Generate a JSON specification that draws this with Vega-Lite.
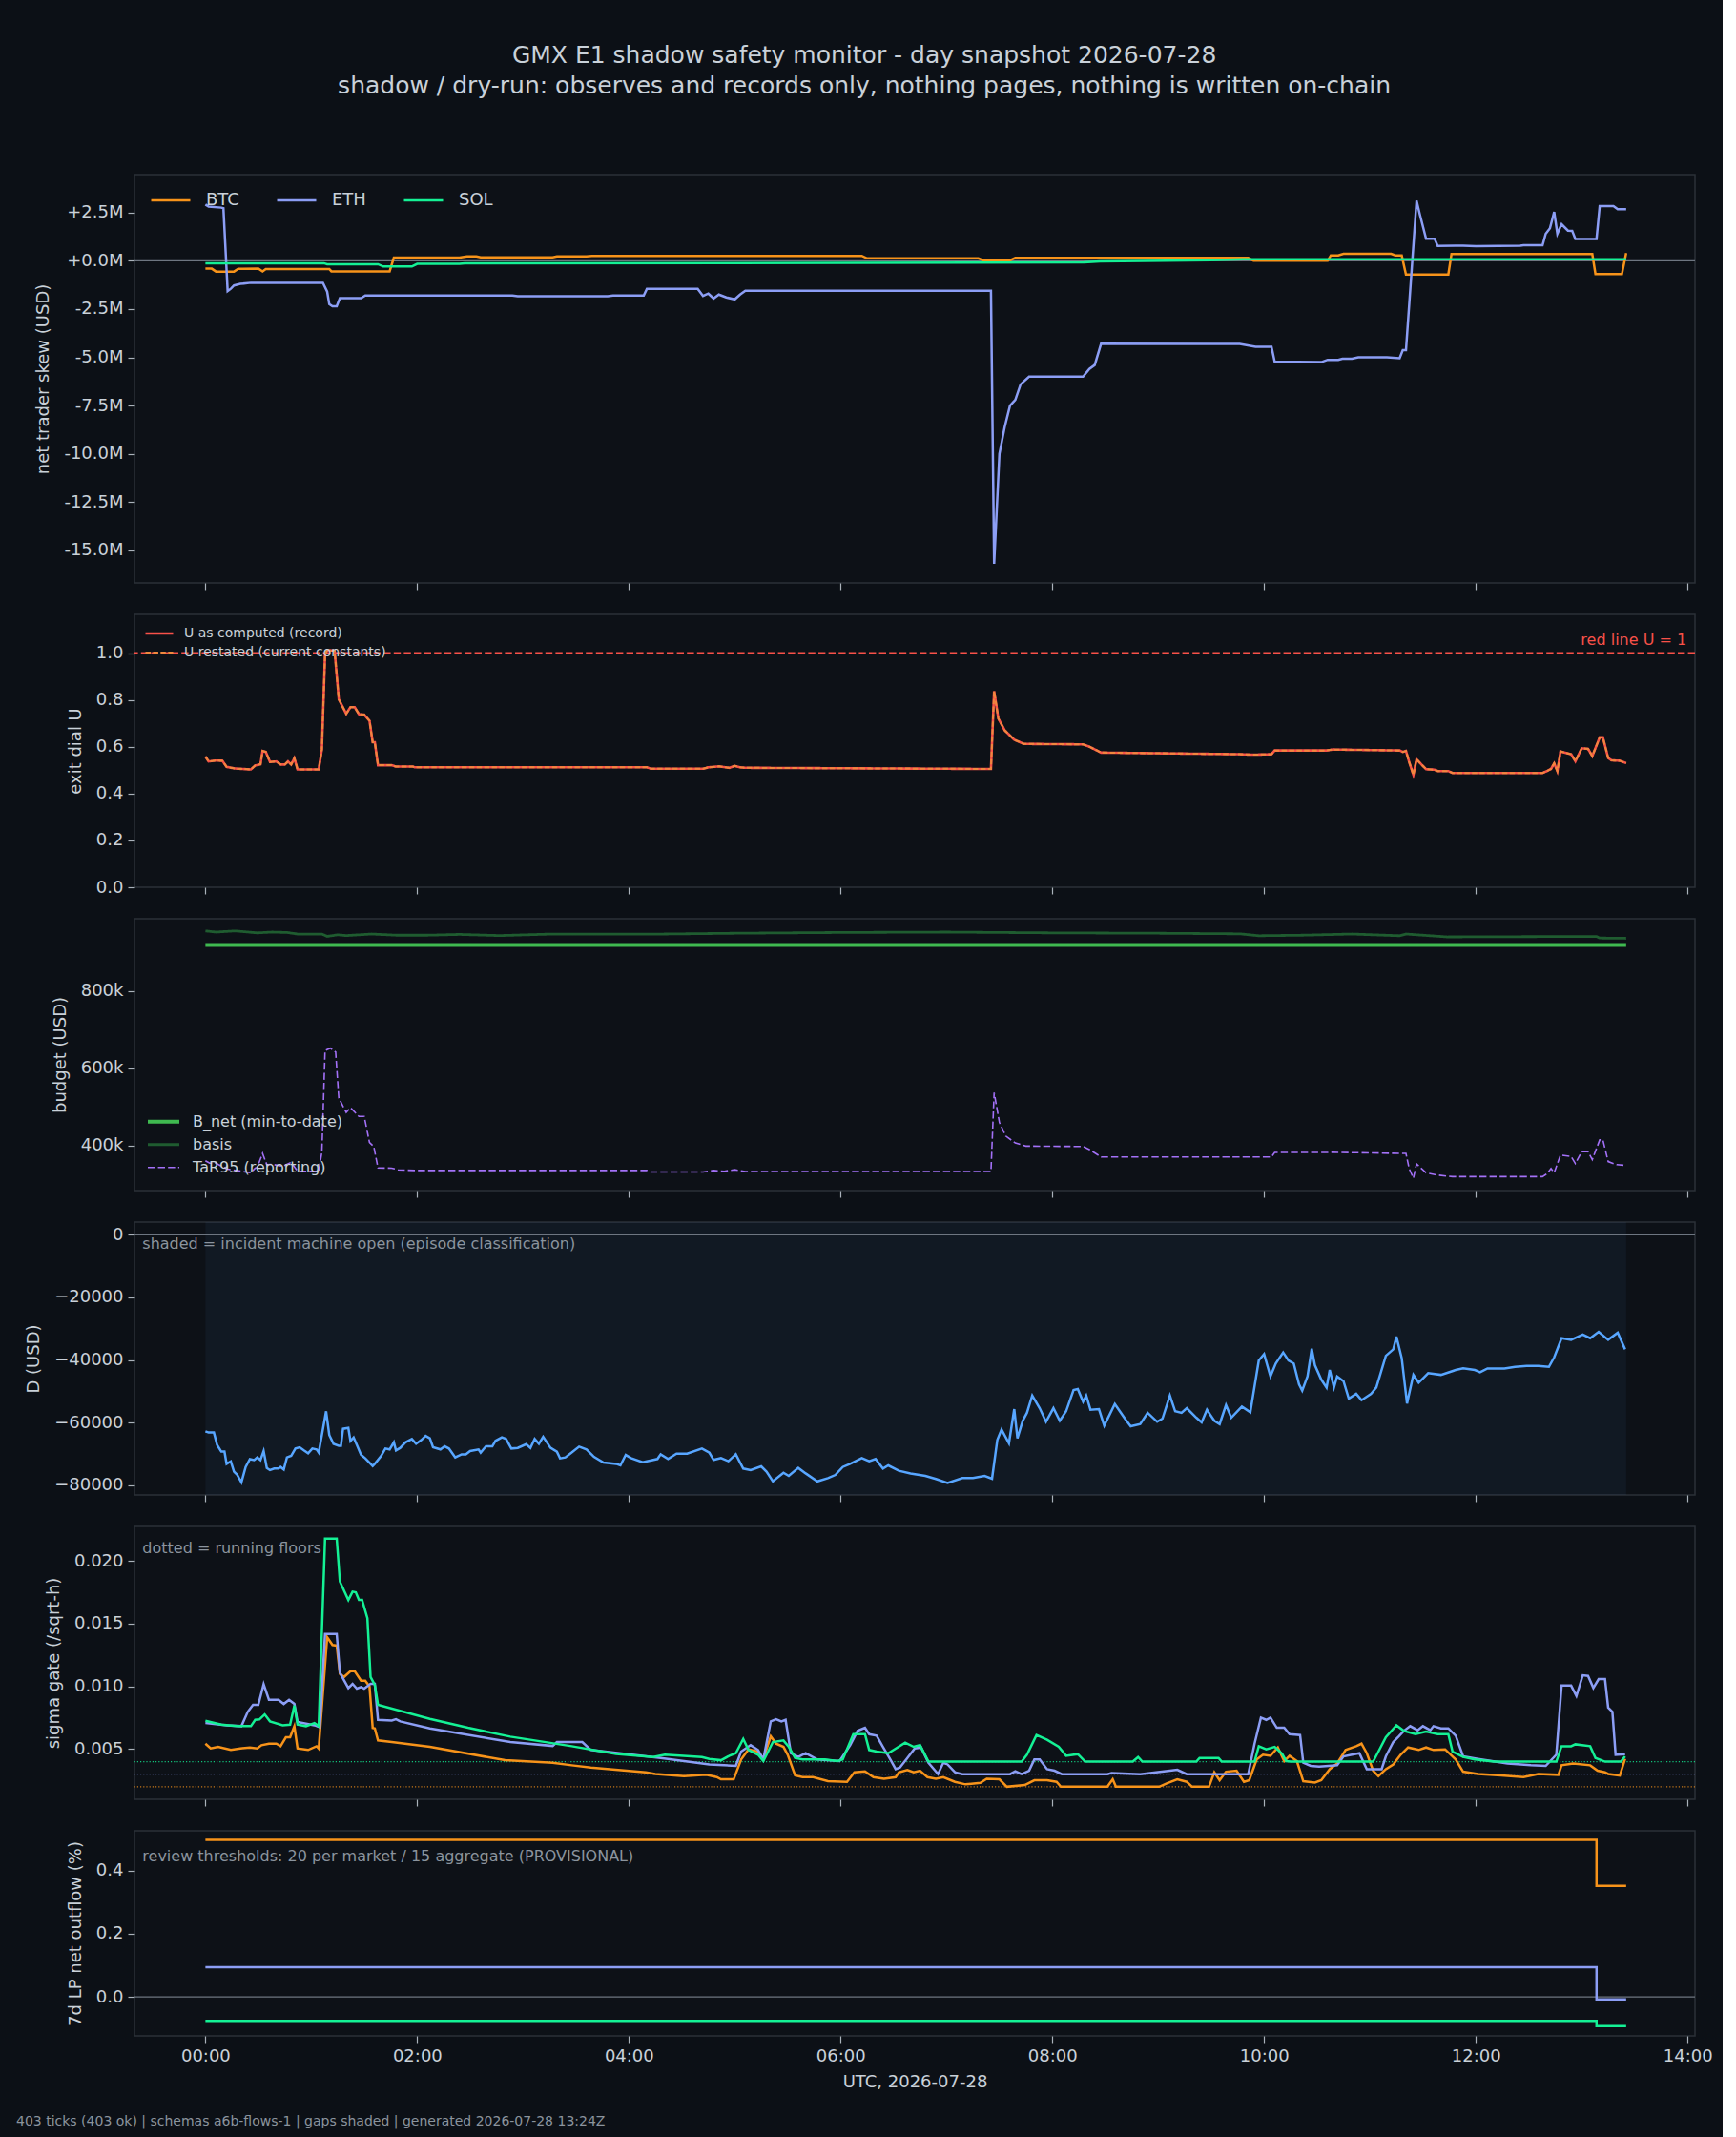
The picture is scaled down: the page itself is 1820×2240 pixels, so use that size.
{
"$schema": "https://vega.github.io/schema/vega-lite/v6.json",
"background": "#0c1016",
"padding": {"left": 16, "top": 46, "right": 10, "bottom": 8},
"title": {"text": ["GMX E1 shadow safety monitor - day snapshot 2026-07-28", "shadow / dry-run: observes and records only, nothing pages, nothing is written on-chain"], "fontSize": 25, "fontWeight": "normal", "color": "#c9d1d9", "lineHeight": 32, "anchor": "middle", "offset": 79},
"spacing": 33,
"bounds": "flush",
"datasets": {
"skew": [
{"h":0,"market":"BTC","skew":-410000},{"h":0.06,"market":"BTC","skew":-410000},{"h":0.1,"market":"BTC","skew":-560000},{"h":0.27,"market":"BTC","skew":-560000},{"h":0.31,"market":"BTC","skew":-420000},{"h":0.5,"market":"BTC","skew":-400000},{"h":0.54,"market":"BTC","skew":-550000},{"h":0.57,"market":"BTC","skew":-430000},{"h":1.17,"market":"BTC","skew":-430000},{"h":1.19,"market":"BTC","skew":-550000},{"h":1.74,"market":"BTC","skew":-550000},{"h":1.78,"market":"BTC","skew":160000},{"h":2.4,"market":"BTC","skew":160000},{"h":2.47,"market":"BTC","skew":220000},{"h":2.56,"market":"BTC","skew":220000},{"h":2.6,"market":"BTC","skew":180000},{"h":3.28,"market":"BTC","skew":180000},{"h":3.32,"market":"BTC","skew":220000},{"h":3.6,"market":"BTC","skew":220000},{"h":3.65,"market":"BTC","skew":250000},{"h":6.2,"market":"BTC","skew":250000},{"h":6.25,"market":"BTC","skew":120000},{"h":7.3,"market":"BTC","skew":120000},{"h":7.35,"market":"BTC","skew":20000},{"h":7.6,"market":"BTC","skew":20000},{"h":7.65,"market":"BTC","skew":150000},{"h":9.85,"market":"BTC","skew":150000},{"h":9.9,"market":"BTC","skew":0},{"h":10.6,"market":"BTC","skew":0},{"h":10.63,"market":"BTC","skew":280000},{"h":10.7,"market":"BTC","skew":280000},{"h":10.75,"market":"BTC","skew":360000},{"h":11.2,"market":"BTC","skew":360000},{"h":11.24,"market":"BTC","skew":280000},{"h":11.3,"market":"BTC","skew":280000},{"h":11.34,"market":"BTC","skew":-710000},{"h":11.74,"market":"BTC","skew":-710000},{"h":11.77,"market":"BTC","skew":350000},{"h":13.1,"market":"BTC","skew":350000},{"h":13.13,"market":"BTC","skew":-690000},{"h":13.38,"market":"BTC","skew":-690000},{"h":13.42,"market":"BTC","skew":400000},
{"h":0,"market":"ETH","skew":2910000},{"h":0.03,"market":"ETH","skew":2800000},{"h":0.15,"market":"ETH","skew":2750000},{"h":0.17,"market":"ETH","skew":2720000},{"h":0.21,"market":"ETH","skew":-1570000},{"h":0.24,"market":"ETH","skew":-1450000},{"h":0.27,"market":"ETH","skew":-1280000},{"h":0.33,"market":"ETH","skew":-1200000},{"h":0.43,"market":"ETH","skew":-1140000},{"h":1.11,"market":"ETH","skew":-1140000},{"h":1.15,"market":"ETH","skew":-1600000},{"h":1.17,"market":"ETH","skew":-2250000},{"h":1.2,"market":"ETH","skew":-2360000},{"h":1.24,"market":"ETH","skew":-2360000},{"h":1.27,"market":"ETH","skew":-1940000},{"h":1.47,"market":"ETH","skew":-1940000},{"h":1.51,"market":"ETH","skew":-1800000},{"h":2.9,"market":"ETH","skew":-1800000},{"h":2.95,"market":"ETH","skew":-1840000},{"h":3.8,"market":"ETH","skew":-1840000},{"h":3.85,"market":"ETH","skew":-1800000},{"h":4.14,"market":"ETH","skew":-1800000},{"h":4.17,"market":"ETH","skew":-1450000},{"h":4.65,"market":"ETH","skew":-1450000},{"h":4.7,"market":"ETH","skew":-1820000},{"h":4.75,"market":"ETH","skew":-1700000},{"h":4.8,"market":"ETH","skew":-1950000},{"h":4.85,"market":"ETH","skew":-1750000},{"h":4.92,"market":"ETH","skew":-1900000},{"h":5.0,"market":"ETH","skew":-2000000},{"h":5.05,"market":"ETH","skew":-1750000},{"h":5.1,"market":"ETH","skew":-1550000},{"h":7.42,"market":"ETH","skew":-1550000},{"h":7.45,"market":"ETH","skew":-15690000},{"h":7.5,"market":"ETH","skew":-10000000},{"h":7.55,"market":"ETH","skew":-8600000},{"h":7.6,"market":"ETH","skew":-7500000},{"h":7.65,"market":"ETH","skew":-7200000},{"h":7.7,"market":"ETH","skew":-6400000},{"h":7.78,"market":"ETH","skew":-6000000},{"h":8.29,"market":"ETH","skew":-6000000},{"h":8.35,"market":"ETH","skew":-5600000},{"h":8.4,"market":"ETH","skew":-5400000},{"h":8.46,"market":"ETH","skew":-4300000},{"h":9.77,"market":"ETH","skew":-4310000},{"h":9.92,"market":"ETH","skew":-4460000},{"h":10.07,"market":"ETH","skew":-4460000},{"h":10.1,"market":"ETH","skew":-5220000},{"h":10.54,"market":"ETH","skew":-5250000},{"h":10.6,"market":"ETH","skew":-5130000},{"h":10.7,"market":"ETH","skew":-5130000},{"h":10.74,"market":"ETH","skew":-5070000},{"h":10.83,"market":"ETH","skew":-5070000},{"h":10.89,"market":"ETH","skew":-5000000},{"h":11.16,"market":"ETH","skew":-5000000},{"h":11.28,"market":"ETH","skew":-5050000},{"h":11.31,"market":"ETH","skew":-4630000},{"h":11.34,"market":"ETH","skew":-4630000},{"h":11.44,"market":"ETH","skew":3110000},{"h":11.47,"market":"ETH","skew":2420000},{"h":11.53,"market":"ETH","skew":1140000},{"h":11.61,"market":"ETH","skew":1140000},{"h":11.64,"market":"ETH","skew":770000},{"h":11.88,"market":"ETH","skew":780000},{"h":12.0,"market":"ETH","skew":760000},{"h":12.42,"market":"ETH","skew":780000},{"h":12.45,"market":"ETH","skew":800000},{"h":12.63,"market":"ETH","skew":800000},{"h":12.66,"market":"ETH","skew":1400000},{"h":12.7,"market":"ETH","skew":1680000},{"h":12.74,"market":"ETH","skew":2530000},{"h":12.77,"market":"ETH","skew":1400000},{"h":12.81,"market":"ETH","skew":1890000},{"h":12.87,"market":"ETH","skew":1560000},{"h":12.91,"market":"ETH","skew":1550000},{"h":12.94,"market":"ETH","skew":1130000},{"h":13.14,"market":"ETH","skew":1130000},{"h":13.17,"market":"ETH","skew":2830000},{"h":13.3,"market":"ETH","skew":2830000},{"h":13.34,"market":"ETH","skew":2670000},{"h":13.42,"market":"ETH","skew":2670000},
{"h":0,"market":"SOL","skew":-130000},{"h":1.12,"market":"SOL","skew":-130000},{"h":1.15,"market":"SOL","skew":-180000},{"h":1.63,"market":"SOL","skew":-180000},{"h":1.68,"market":"SOL","skew":-300000},{"h":1.95,"market":"SOL","skew":-300000},{"h":2.0,"market":"SOL","skew":-160000},{"h":2.4,"market":"SOL","skew":-160000},{"h":2.45,"market":"SOL","skew":-130000},{"h":5.0,"market":"SOL","skew":-120000},{"h":8.3,"market":"SOL","skew":-80000},{"h":8.45,"market":"SOL","skew":-30000},{"h":9.5,"market":"SOL","skew":30000},{"h":9.8,"market":"SOL","skew":80000},{"h":13.42,"market":"SOL","skew":80000}
],
"udial": [
{"h":0,"computed":0.558,"restated":0.558},{"h":0.03,"computed":0.537,"restated":0.537},{"h":0.1,"computed":0.541,"restated":0.541},{"h":0.16,"computed":0.54,"restated":0.54},{"h":0.2,"computed":0.514,"restated":0.514},{"h":0.28,"computed":0.507,"restated":0.507},{"h":0.43,"computed":0.503,"restated":0.503},{"h":0.47,"computed":0.52,"restated":0.52},{"h":0.52,"computed":0.525,"restated":0.525},{"h":0.54,"computed":0.582,"restated":0.582},{"h":0.57,"computed":0.578,"restated":0.578},{"h":0.61,"computed":0.535,"restated":0.535},{"h":0.67,"computed":0.537,"restated":0.537},{"h":0.71,"computed":0.524,"restated":0.524},{"h":0.75,"computed":0.524,"restated":0.524},{"h":0.78,"computed":0.537,"restated":0.537},{"h":0.81,"computed":0.524,"restated":0.524},{"h":0.84,"computed":0.551,"restated":0.551},{"h":0.87,"computed":0.503,"restated":0.503},{"h":1.07,"computed":0.503,"restated":0.503},{"h":1.1,"computed":0.589,"restated":0.589},{"h":1.13,"computed":0.993,"restated":0.993},{"h":1.15,"computed":1.013,"restated":1.013},{"h":1.22,"computed":1.01,"restated":1.01},{"h":1.26,"computed":0.802,"restated":0.802},{"h":1.33,"computed":0.741,"restated":0.741},{"h":1.37,"computed":0.769,"restated":0.769},{"h":1.41,"computed":0.769,"restated":0.769},{"h":1.45,"computed":0.739,"restated":0.739},{"h":1.5,"computed":0.737,"restated":0.737},{"h":1.55,"computed":0.711,"restated":0.711},{"h":1.58,"computed":0.619,"restated":0.619},{"h":1.6,"computed":0.619,"restated":0.619},{"h":1.63,"computed":0.521,"restated":0.521},{"h":1.76,"computed":0.521,"restated":0.521},{"h":1.8,"computed":0.515,"restated":0.515},{"h":1.96,"computed":0.515,"restated":0.515},{"h":1.98,"computed":0.512,"restated":0.512},{"h":4.17,"computed":0.512,"restated":0.512},{"h":4.21,"computed":0.506,"restated":0.506},{"h":4.7,"computed":0.506,"restated":0.506},{"h":4.75,"computed":0.512,"restated":0.512},{"h":4.85,"computed":0.516,"restated":0.516},{"h":4.95,"computed":0.51,"restated":0.51},{"h":5.0,"computed":0.518,"restated":0.518},{"h":5.05,"computed":0.512,"restated":0.512},{"h":5.1,"computed":0.51,"restated":0.51},{"h":7.42,"computed":0.505,"restated":0.505},{"h":7.45,"computed":0.837,"restated":0.837},{"h":7.49,"computed":0.72,"restated":0.72},{"h":7.55,"computed":0.67,"restated":0.67},{"h":7.64,"computed":0.63,"restated":0.63},{"h":7.73,"computed":0.612,"restated":0.612},{"h":8.29,"computed":0.61,"restated":0.61},{"h":8.35,"computed":0.6,"restated":0.6},{"h":8.46,"computed":0.575,"restated":0.575},{"h":9.77,"computed":0.568,"restated":0.568},{"h":9.9,"computed":0.566,"restated":0.566},{"h":10.07,"computed":0.568,"restated":0.568},{"h":10.1,"computed":0.584,"restated":0.584},{"h":10.59,"computed":0.584,"restated":0.584},{"h":10.65,"computed":0.588,"restated":0.588},{"h":11.28,"computed":0.584,"restated":0.584},{"h":11.31,"computed":0.578,"restated":0.578},{"h":11.34,"computed":0.582,"restated":0.582},{"h":11.37,"computed":0.535,"restated":0.535},{"h":11.41,"computed":0.48,"restated":0.48},{"h":11.44,"computed":0.546,"restated":0.546},{"h":11.53,"computed":0.504,"restated":0.504},{"h":11.61,"computed":0.502,"restated":0.502},{"h":11.64,"computed":0.496,"restated":0.496},{"h":11.74,"computed":0.496,"restated":0.496},{"h":11.78,"computed":0.488,"restated":0.488},{"h":12.63,"computed":0.488,"restated":0.488},{"h":12.67,"computed":0.496,"restated":0.496},{"h":12.71,"computed":0.505,"restated":0.505},{"h":12.74,"computed":0.529,"restated":0.529},{"h":12.77,"computed":0.496,"restated":0.496},{"h":12.8,"computed":0.58,"restated":0.58},{"h":12.9,"computed":0.568,"restated":0.568},{"h":12.94,"computed":0.538,"restated":0.538},{"h":13.0,"computed":0.593,"restated":0.593},{"h":13.06,"computed":0.591,"restated":0.591},{"h":13.1,"computed":0.56,"restated":0.56},{"h":13.17,"computed":0.64,"restated":0.64},{"h":13.2,"computed":0.64,"restated":0.64},{"h":13.25,"computed":0.552,"restated":0.552},{"h":13.28,"computed":0.542,"restated":0.542},{"h":13.36,"computed":0.54,"restated":0.54},{"h":13.42,"computed":0.53,"restated":0.53}
],
"budget": [
{"h":0,"series":"B_net","usd":919000},{"h":13.42,"series":"B_net","usd":919000},
{"h":0,"series":"basis","usd":955000},{"h":0.1,"series":"basis","usd":952000},{"h":0.28,"series":"basis","usd":955000},{"h":0.49,"series":"basis","usd":950000},{"h":0.63,"series":"basis","usd":952000},{"h":0.77,"series":"basis","usd":951000},{"h":0.87,"series":"basis","usd":947000},{"h":1.1,"series":"basis","usd":947000},{"h":1.15,"series":"basis","usd":941000},{"h":1.25,"series":"basis","usd":945000},{"h":1.33,"series":"basis","usd":943000},{"h":1.57,"series":"basis","usd":947000},{"h":1.8,"series":"basis","usd":944000},{"h":2.1,"series":"basis","usd":944000},{"h":2.4,"series":"basis","usd":946000},{"h":2.78,"series":"basis","usd":943000},{"h":3.28,"series":"basis","usd":947000},{"h":4.33,"series":"basis","usd":947000},{"h":5.0,"series":"basis","usd":949000},{"h":6.0,"series":"basis","usd":951000},{"h":7.0,"series":"basis","usd":952000},{"h":7.5,"series":"basis","usd":951000},{"h":8.0,"series":"basis","usd":950000},{"h":9.0,"series":"basis","usd":949000},{"h":9.77,"series":"basis","usd":947500},{"h":9.95,"series":"basis","usd":942600},{"h":10.37,"series":"basis","usd":944000},{"h":10.83,"series":"basis","usd":947000},{"h":11.28,"series":"basis","usd":942600},{"h":11.34,"series":"basis","usd":947000},{"h":11.73,"series":"basis","usd":939600},{"h":12.75,"series":"basis","usd":940500},{"h":13.14,"series":"basis","usd":940500},{"h":13.17,"series":"basis","usd":936700},{"h":13.42,"series":"basis","usd":936000},
{"h":0,"series":"TaR95","usd":361000},{"h":0.04,"series":"TaR95","usd":355000},{"h":0.1,"series":"TaR95","usd":355000},{"h":0.2,"series":"TaR95","usd":340000},{"h":0.43,"series":"TaR95","usd":330000},{"h":0.47,"series":"TaR95","usd":342000},{"h":0.49,"series":"TaR95","usd":344000},{"h":0.54,"series":"TaR95","usd":380000},{"h":0.58,"series":"TaR95","usd":351000},{"h":0.63,"series":"TaR95","usd":352000},{"h":0.73,"series":"TaR95","usd":347000},{"h":0.81,"series":"TaR95","usd":357000},{"h":0.87,"series":"TaR95","usd":334000},{"h":1.07,"series":"TaR95","usd":334000},{"h":1.1,"series":"TaR95","usd":383000},{"h":1.13,"series":"TaR95","usd":646000},{"h":1.18,"series":"TaR95","usd":652000},{"h":1.23,"series":"TaR95","usd":642000},{"h":1.26,"series":"TaR95","usd":523000},{"h":1.33,"series":"TaR95","usd":486000},{"h":1.37,"series":"TaR95","usd":498500},{"h":1.45,"series":"TaR95","usd":475600},{"h":1.5,"series":"TaR95","usd":475600},{"h":1.55,"series":"TaR95","usd":408000},{"h":1.59,"series":"TaR95","usd":398000},{"h":1.63,"series":"TaR95","usd":342600},{"h":1.76,"series":"TaR95","usd":342000},{"h":1.82,"series":"TaR95","usd":337600},{"h":2.0,"series":"TaR95","usd":336000},{"h":4.17,"series":"TaR95","usd":336000},{"h":4.21,"series":"TaR95","usd":332000},{"h":4.7,"series":"TaR95","usd":332000},{"h":4.8,"series":"TaR95","usd":336000},{"h":4.9,"series":"TaR95","usd":334000},{"h":5.0,"series":"TaR95","usd":338000},{"h":5.1,"series":"TaR95","usd":333000},{"h":7.42,"series":"TaR95","usd":333000},{"h":7.45,"series":"TaR95","usd":537000},{"h":7.5,"series":"TaR95","usd":460000},{"h":7.56,"series":"TaR95","usd":425000},{"h":7.65,"series":"TaR95","usd":407000},{"h":7.75,"series":"TaR95","usd":399000},{"h":8.29,"series":"TaR95","usd":398000},{"h":8.35,"series":"TaR95","usd":390000},{"h":8.46,"series":"TaR95","usd":371000},{"h":10.07,"series":"TaR95","usd":371000},{"h":10.1,"series":"TaR95","usd":382500},{"h":10.59,"series":"TaR95","usd":382500},{"h":10.65,"series":"TaR95","usd":383000},{"h":11.28,"series":"TaR95","usd":380000},{"h":11.34,"series":"TaR95","usd":380000},{"h":11.37,"series":"TaR95","usd":341000},{"h":11.41,"series":"TaR95","usd":316000},{"h":11.44,"series":"TaR95","usd":353000},{"h":11.53,"series":"TaR95","usd":330000},{"h":11.64,"series":"TaR95","usd":324000},{"h":11.78,"series":"TaR95","usd":320000},{"h":12.63,"series":"TaR95","usd":320000},{"h":12.67,"series":"TaR95","usd":327000},{"h":12.71,"series":"TaR95","usd":341000},{"h":12.74,"series":"TaR95","usd":330000},{"h":12.8,"series":"TaR95","usd":376000},{"h":12.9,"series":"TaR95","usd":372000},{"h":12.94,"series":"TaR95","usd":354000},{"h":13.0,"series":"TaR95","usd":384500},{"h":13.06,"series":"TaR95","usd":384500},{"h":13.1,"series":"TaR95","usd":364000},{"h":13.17,"series":"TaR95","usd":415000},{"h":13.2,"series":"TaR95","usd":415000},{"h":13.25,"series":"TaR95","usd":359000},{"h":13.33,"series":"TaR95","usd":351000},{"h":13.42,"series":"TaR95","usd":349000}
],
"drawdown": [
{"h":0,"d":-62800},{"h":0.03,"d":-63200},{"h":0.08,"d":-63200},{"h":0.11,"d":-67100},{"h":0.15,"d":-69300},{"h":0.18,"d":-69300},{"h":0.2,"d":-73200},{"h":0.24,"d":-72400},{"h":0.27,"d":-75700},{"h":0.3,"d":-76700},{"h":0.34,"d":-79100},{"h":0.38,"d":-74200},{"h":0.42,"d":-71700},{"h":0.46,"d":-72000},{"h":0.49,"d":-71150},{"h":0.52,"d":-72000},{"h":0.55,"d":-69100},{"h":0.58,"d":-74500},{"h":0.61,"d":-75200},{"h":0.65,"d":-74700},{"h":0.69,"d":-74700},{"h":0.71,"d":-74200},{"h":0.74,"d":-75000},{"h":0.77,"d":-71150},{"h":0.81,"d":-70650},{"h":0.85,"d":-68300},{"h":0.89,"d":-67900},{"h":0.93,"d":-68900},{"h":0.97,"d":-69800},{"h":1.01,"d":-68300},{"h":1.05,"d":-68600},{"h":1.07,"d":-69600},{"h":1.1,"d":-64000},{"h":1.14,"d":-56400},{"h":1.17,"d":-64000},{"h":1.21,"d":-66800},{"h":1.26,"d":-67400},{"h":1.28,"d":-67400},{"h":1.3,"d":-62000},{"h":1.35,"d":-61700},{"h":1.37,"d":-65900},{"h":1.4,"d":-64750},{"h":1.43,"d":-67100},{"h":1.47,"d":-70300},{"h":1.51,"d":-71450},{"h":1.58,"d":-73900},{"h":1.6,"d":-73200},{"h":1.66,"d":-70650},{"h":1.7,"d":-68300},{"h":1.74,"d":-68600},{"h":1.78,"d":-66300},{"h":1.8,"d":-68900},{"h":1.84,"d":-68100},{"h":1.89,"d":-66300},{"h":1.95,"d":-65250},{"h":1.99,"d":-66800},{"h":2.04,"d":-65550},{"h":2.08,"d":-64250},{"h":2.12,"d":-65050},{"h":2.15,"d":-67900},{"h":2.22,"d":-68600},{"h":2.26,"d":-67600},{"h":2.3,"d":-68300},{"h":2.36,"d":-71150},{"h":2.42,"d":-70150},{"h":2.46,"d":-70150},{"h":2.5,"d":-69100},{"h":2.58,"d":-68600},{"h":2.6,"d":-69600},{"h":2.65,"d":-67600},{"h":2.71,"d":-67600},{"h":2.74,"d":-65850},{"h":2.8,"d":-64750},{"h":2.84,"d":-65250},{"h":2.89,"d":-68300},{"h":2.95,"d":-68100},{"h":3.03,"d":-66900},{"h":3.07,"d":-68100},{"h":3.11,"d":-65250},{"h":3.15,"d":-66800},{"h":3.19,"d":-64550},{"h":3.26,"d":-68100},{"h":3.32,"d":-69300},{"h":3.35,"d":-71450},{"h":3.4,"d":-71150},{"h":3.46,"d":-69600},
{"h":3.53,"d":-67700},{"h":3.6,"d":-68600},{"h":3.67,"d":-70950},{"h":3.76,"d":-72800},{"h":3.88,"d":-73200},{"h":3.92,"d":-73700},{"h":3.97,"d":-70350},{"h":4.02,"d":-71350},{"h":4.13,"d":-72700},{"h":4.27,"d":-71650},{"h":4.3,"d":-70150},{"h":4.37,"d":-71650},{"h":4.45,"d":-69950},{"h":4.55,"d":-69950},{"h":4.69,"d":-68300},{"h":4.76,"d":-69650},{"h":4.8,"d":-71950},{"h":4.87,"d":-71350},{"h":4.94,"d":-72350},{"h":5.01,"d":-70150},{"h":5.08,"d":-74700},{"h":5.15,"d":-75200},{"h":5.25,"d":-74000},{"h":5.3,"d":-75700},{"h":5.36,"d":-78800},{"h":5.46,"d":-76050},{"h":5.51,"d":-77050},{"h":5.6,"d":-74500},{"h":5.67,"d":-76250},{"h":5.78,"d":-78800},{"h":5.88,"d":-77750},{"h":5.95,"d":-76750},{"h":6.02,"d":-74200},{"h":6.09,"d":-73200},{"h":6.2,"d":-71350},{"h":6.27,"d":-72350},{"h":6.33,"d":-71650},{"h":6.4,"d":-74700},{"h":6.45,"d":-73700},{"h":6.55,"d":-75400},{"h":6.66,"d":-76250},{"h":6.8,"d":-77050},{"h":6.9,"d":-78050},{"h":7.01,"d":-79300},{"h":7.15,"d":-77750},{"h":7.25,"d":-77750},{"h":7.36,"d":-77050},{"h":7.43,"d":-77950},{"h":7.48,"d":-65550},{"h":7.52,"d":-62200},{"h":7.59,"d":-66600},{"h":7.64,"d":-55700},{"h":7.67,"d":-65050},{"h":7.72,"d":-59450},{"h":7.76,"d":-56900},{"h":7.81,"d":-51350},{"h":7.88,"d":-55400},{"h":7.94,"d":-59750},{"h":8.01,"d":-55400},{"h":8.07,"d":-59450},{"h":8.13,"d":-56400},{"h":8.2,"d":-49600},{"h":8.24,"d":-49300},{"h":8.29,"d":-53350},{"h":8.32,"d":-51350},{"h":8.36,"d":-55900},{"h":8.44,"d":-55700},{"h":8.49,"d":-61000},{"h":8.59,"d":-54100},{"h":8.69,"d":-58950},{"h":8.74,"d":-61200},{"h":8.83,"d":-60500},{"h":8.9,"d":-56900},{"h":8.99,"d":-59750},{"h":9.04,"d":-58750},{"h":9.11,"d":-51350},{"h":9.16,"d":-56400},{"h":9.22,"d":-56900},{"h":9.27,"d":-55400},{"h":9.36,"d":-58450},{"h":9.41,"d":-59950},{"h":9.46,"d":-55900},{"h":9.53,"d":-59450},{"h":9.58,"d":-60500},{"h":9.64,"d":-54400},{"h":9.69,"d":-58450},{"h":9.79,"d":-54900},{"h":9.87,"d":-56700},{"h":9.95,"d":-40150},{"h":10.0,"d":-38100},{"h":10.06,"d":-45250},{"h":10.11,"d":-41150},{"h":10.18,"d":-37600},{"h":10.23,"d":-40150},{"h":10.28,"d":-41150},{"h":10.33,"d":-47800},{"h":10.36,"d":-49800},{"h":10.41,"d":-45250},{"h":10.45,"d":-36400},{"h":10.48,"d":-41700},{"h":10.54,"d":-46250},{"h":10.59,"d":-48800},{"h":10.62,"d":-43200},{"h":10.66,"d":-48800},{"h":10.69,"d":-45250},{"h":10.75,"d":-46750},{"h":10.8,"d":-52350},{"h":10.87,"d":-50800},{"h":10.92,"d":-52850},{"h":11.01,"d":-50800},{"h":11.06,"d":-48800},{"h":11.15,"d":-38650},{"h":11.22,"d":-36600},{"h":11.25,"d":-32550},{"h":11.3,"d":-39450},{"h":11.35,"d":-53900},{"h":11.41,"d":-44750},{"h":11.46,"d":-47250},{"h":11.55,"d":-44200},{"h":11.67,"d":-44750},{"h":11.81,"d":-43200},{"h":11.88,"d":-42700},{"h":11.99,"d":-43200},{"h":12.04,"d":-43900},{"h":12.11,"d":-42700},{"h":12.27,"d":-42700},{"h":12.37,"d":-42200},{"h":12.48,"d":-41900},{"h":12.59,"d":-41900},{"h":12.69,"d":-42200},{"h":12.74,"d":-39150},{"h":12.81,"d":-33050},{"h":12.9,"d":-33550},{"h":13.01,"d":-31900},{"h":13.08,"d":-33050},{"h":13.16,"d":-31000},{"h":13.25,"d":-33550},{"h":13.34,"d":-31300},{"h":13.41,"d":-36600}
],
"incident": [{"start": 0, "end": 13.42}],
"sigma": [
{"h":0,"market":"BTC","sigma":0.00543},{"h":0.05,"market":"BTC","sigma":0.00505},{"h":0.12,"market":"BTC","sigma":0.00518},{"h":0.24,"market":"BTC","sigma":0.00493},{"h":0.33,"market":"BTC","sigma":0.00505},{"h":0.42,"market":"BTC","sigma":0.00513},{"h":0.49,"market":"BTC","sigma":0.00505},{"h":0.53,"market":"BTC","sigma":0.00531},{"h":0.6,"market":"BTC","sigma":0.00543},{"h":0.67,"market":"BTC","sigma":0.00543},{"h":0.71,"market":"BTC","sigma":0.00523},{"h":0.76,"market":"BTC","sigma":0.00594},{"h":0.8,"market":"BTC","sigma":0.00594},{"h":0.84,"market":"BTC","sigma":0.00682},{"h":0.87,"market":"BTC","sigma":0.00505},{"h":0.97,"market":"BTC","sigma":0.00493},{"h":1.05,"market":"BTC","sigma":0.00523},{"h":1.07,"market":"BTC","sigma":0.00505},{"h":1.15,"market":"BTC","sigma":0.01392},{"h":1.2,"market":"BTC","sigma":0.0133},{"h":1.24,"market":"BTC","sigma":0.01325},{"h":1.27,"market":"BTC","sigma":0.011},{"h":1.31,"market":"BTC","sigma":0.01075},{"h":1.37,"market":"BTC","sigma":0.01121},{"h":1.41,"market":"BTC","sigma":0.01121},{"h":1.47,"market":"BTC","sigma":0.01045},{"h":1.51,"market":"BTC","sigma":0.01045},{"h":1.55,"market":"BTC","sigma":0.00999},{"h":1.58,"market":"BTC","sigma":0.00669},{"h":1.6,"market":"BTC","sigma":0.00665},{"h":1.63,"market":"BTC","sigma":0.00569},{"h":1.76,"market":"BTC","sigma":0.00556},{"h":2.12,"market":"BTC","sigma":0.00518},{"h":2.83,"market":"BTC","sigma":0.00411},{"h":3.28,"market":"BTC","sigma":0.00391},{"h":3.46,"market":"BTC","sigma":0.00371},{"h":3.64,"market":"BTC","sigma":0.00353},{"h":4.16,"market":"BTC","sigma":0.00315},{"h":4.25,"market":"BTC","sigma":0.00302},{"h":4.52,"market":"BTC","sigma":0.00285},{"h":4.73,"market":"BTC","sigma":0.00295},{"h":4.83,"market":"BTC","sigma":0.00277},{"h":4.87,"market":"BTC","sigma":0.00259},{"h":4.99,"market":"BTC","sigma":0.00259},{"h":5.06,"market":"BTC","sigma":0.00417},{"h":5.13,"market":"BTC","sigma":0.00498},{"h":5.22,"market":"BTC","sigma":0.0048},{"h":5.27,"market":"BTC","sigma":0.00422},{"h":5.34,"market":"BTC","sigma":0.00602},{"h":5.39,"market":"BTC","sigma":0.00543},{"h":5.46,"market":"BTC","sigma":0.00518},{"h":5.5,"market":"BTC","sigma":0.00455},{"h":5.57,"market":"BTC","sigma":0.0029},{"h":5.64,"market":"BTC","sigma":0.00277},{"h":5.74,"market":"BTC","sigma":0.00277},{"h":5.88,"market":"BTC","sigma":0.00244},{"h":6.06,"market":"BTC","sigma":0.00239},{"h":6.13,"market":"BTC","sigma":0.00315},{"h":6.23,"market":"BTC","sigma":0.00323},{"h":6.31,"market":"BTC","sigma":0.00277},{"h":6.41,"market":"BTC","sigma":0.00264},{"h":6.52,"market":"BTC","sigma":0.00277},{"h":6.55,"market":"BTC","sigma":0.00315},{"h":6.63,"market":"BTC","sigma":0.00333},{"h":6.69,"market":"BTC","sigma":0.00315},{"h":6.75,"market":"BTC","sigma":0.00328},{"h":6.82,"market":"BTC","sigma":0.00277},{"h":6.9,"market":"BTC","sigma":0.00264},{"h":6.97,"market":"BTC","sigma":0.00277},{"h":7.08,"market":"BTC","sigma":0.00239},{"h":7.18,"market":"BTC","sigma":0.00219},{"h":7.32,"market":"BTC","sigma":0.00231},{"h":7.38,"market":"BTC","sigma":0.00264},{"h":7.5,"market":"BTC","sigma":0.00259},{"h":7.57,"market":"BTC","sigma":0.002},{"h":7.74,"market":"BTC","sigma":0.00214},{"h":7.83,"market":"BTC","sigma":0.00252},{"h":7.95,"market":"BTC","sigma":0.00252},{"h":8.04,"market":"BTC","sigma":0.00239},{"h":8.08,"market":"BTC","sigma":0.002},{"h":8.52,"market":"BTC","sigma":0.002},{"h":8.57,"market":"BTC","sigma":0.00259},{"h":8.6,"market":"BTC","sigma":0.002},{"h":9.01,"market":"BTC","sigma":0.002},{"h":9.08,"market":"BTC","sigma":0.00226},{"h":9.18,"market":"BTC","sigma":0.00259},{"h":9.27,"market":"BTC","sigma":0.00239},{"h":9.32,"market":"BTC","sigma":0.002},{"h":9.48,"market":"BTC","sigma":0.002},{"h":9.53,"market":"BTC","sigma":0.00315},{"h":9.58,"market":"BTC","sigma":0.00252},{"h":9.64,"market":"BTC","sigma":0.0032},{"h":9.74,"market":"BTC","sigma":0.00328},{"h":9.81,"market":"BTC","sigma":0.00239},{"h":9.86,"market":"BTC","sigma":0.00252},{"h":9.93,"market":"BTC","sigma":0.00417},{"h":9.99,"market":"BTC","sigma":0.00455},{"h":10.06,"market":"BTC","sigma":0.00447},{"h":10.13,"market":"BTC","sigma":0.00513},{"h":10.19,"market":"BTC","sigma":0.00404},{"h":10.24,"market":"BTC","sigma":0.00447},{"h":10.31,"market":"BTC","sigma":0.00404},{"h":10.37,"market":"BTC","sigma":0.00244},{"h":10.48,"market":"BTC","sigma":0.00234},{"h":10.54,"market":"BTC","sigma":0.00252},{"h":10.62,"market":"BTC","sigma":0.0034},{"h":10.69,"market":"BTC","sigma":0.00386},{"h":10.77,"market":"BTC","sigma":0.00493},{"h":10.87,"market":"BTC","sigma":0.00523},{"h":10.92,"market":"BTC","sigma":0.00543},{"h":10.97,"market":"BTC","sigma":0.00467},{"h":11.03,"market":"BTC","sigma":0.00328},{"h":11.08,"market":"BTC","sigma":0.00285},{"h":11.15,"market":"BTC","sigma":0.0034},{"h":11.22,"market":"BTC","sigma":0.00378},{"h":11.29,"market":"BTC","sigma":0.00455},{"h":11.36,"market":"BTC","sigma":0.00513},{"h":11.46,"market":"BTC","sigma":0.00493},{"h":11.53,"market":"BTC","sigma":0.00513},{"h":11.6,"market":"BTC","sigma":0.00493},{"h":11.71,"market":"BTC","sigma":0.00498},{"h":11.81,"market":"BTC","sigma":0.00417},{"h":11.88,"market":"BTC","sigma":0.0032},{"h":12.02,"market":"BTC","sigma":0.00302},{"h":12.24,"market":"BTC","sigma":0.0029},{"h":12.45,"market":"BTC","sigma":0.00277},{"h":12.59,"market":"BTC","sigma":0.00302},{"h":12.78,"market":"BTC","sigma":0.00295},{"h":12.81,"market":"BTC","sigma":0.00371},{"h":12.92,"market":"BTC","sigma":0.00386},{"h":13.08,"market":"BTC","sigma":0.00371},{"h":13.15,"market":"BTC","sigma":0.00328},{"h":13.22,"market":"BTC","sigma":0.00315},{"h":13.25,"market":"BTC","sigma":0.00302},{"h":13.36,"market":"BTC","sigma":0.0029},{"h":13.41,"market":"BTC","sigma":0.00422},
{"h":0,"market":"ETH","sigma":0.00708},{"h":0.2,"market":"ETH","sigma":0.0069},{"h":0.34,"market":"ETH","sigma":0.00683},{"h":0.4,"market":"ETH","sigma":0.00797},{"h":0.45,"market":"ETH","sigma":0.00853},{"h":0.5,"market":"ETH","sigma":0.00853},{"h":0.55,"market":"ETH","sigma":0.01017},{"h":0.6,"market":"ETH","sigma":0.00893},{"h":0.69,"market":"ETH","sigma":0.00893},{"h":0.74,"market":"ETH","sigma":0.0086},{"h":0.79,"market":"ETH","sigma":0.00893},{"h":0.84,"market":"ETH","sigma":0.0086},{"h":0.87,"market":"ETH","sigma":0.00716},{"h":1.03,"market":"ETH","sigma":0.0069},{"h":1.08,"market":"ETH","sigma":0.00675},{"h":1.13,"market":"ETH","sigma":0.01418},{"h":1.24,"market":"ETH","sigma":0.01418},{"h":1.27,"market":"ETH","sigma":0.01108},{"h":1.35,"market":"ETH","sigma":0.00987},{"h":1.39,"market":"ETH","sigma":0.0102},{"h":1.43,"market":"ETH","sigma":0.00982},{"h":1.47,"market":"ETH","sigma":0.00995},{"h":1.5,"market":"ETH","sigma":0.00982},{"h":1.56,"market":"ETH","sigma":0.0102},{"h":1.6,"market":"ETH","sigma":0.0102},{"h":1.63,"market":"ETH","sigma":0.00733},{"h":1.76,"market":"ETH","sigma":0.00728},{"h":1.8,"market":"ETH","sigma":0.00738},{"h":1.84,"market":"ETH","sigma":0.00721},{"h":2.12,"market":"ETH","sigma":0.00665},{"h":2.88,"market":"ETH","sigma":0.00556},{"h":3.28,"market":"ETH","sigma":0.00525},{"h":3.32,"market":"ETH","sigma":0.00556},{"h":3.56,"market":"ETH","sigma":0.00556},{"h":3.64,"market":"ETH","sigma":0.00493},{"h":4.3,"market":"ETH","sigma":0.00429},{"h":4.76,"market":"ETH","sigma":0.00378},{"h":5.01,"market":"ETH","sigma":0.00366},{"h":5.06,"market":"ETH","sigma":0.0048},{"h":5.15,"market":"ETH","sigma":0.00531},{"h":5.22,"market":"ETH","sigma":0.00493},{"h":5.27,"market":"ETH","sigma":0.00417},{"h":5.34,"market":"ETH","sigma":0.00721},{"h":5.39,"market":"ETH","sigma":0.00738},{"h":5.44,"market":"ETH","sigma":0.00721},{"h":5.48,"market":"ETH","sigma":0.00733},{"h":5.53,"market":"ETH","sigma":0.00467},{"h":5.6,"market":"ETH","sigma":0.00437},{"h":5.67,"market":"ETH","sigma":0.00467},{"h":5.78,"market":"ETH","sigma":0.00417},{"h":5.99,"market":"ETH","sigma":0.00404},{"h":6.09,"market":"ETH","sigma":0.00531},{"h":6.16,"market":"ETH","sigma":0.00645},{"h":6.23,"market":"ETH","sigma":0.0067},{"h":6.27,"market":"ETH","sigma":0.00619},{"h":6.34,"market":"ETH","sigma":0.00607},{"h":6.4,"market":"ETH","sigma":0.00518},{"h":6.47,"market":"ETH","sigma":0.00417},{"h":6.52,"market":"ETH","sigma":0.0034},{"h":6.56,"market":"ETH","sigma":0.00353},{"h":6.62,"market":"ETH","sigma":0.00417},{"h":6.7,"market":"ETH","sigma":0.00505},{"h":6.76,"market":"ETH","sigma":0.00513},{"h":6.83,"market":"ETH","sigma":0.00391},{"h":6.92,"market":"ETH","sigma":0.00302},{"h":6.97,"market":"ETH","sigma":0.00391},{"h":7.01,"market":"ETH","sigma":0.00378},{"h":7.08,"market":"ETH","sigma":0.00315},{"h":7.15,"market":"ETH","sigma":0.003},{"h":7.6,"market":"ETH","sigma":0.003},{"h":7.65,"market":"ETH","sigma":0.00323},{"h":7.71,"market":"ETH","sigma":0.003},{"h":7.78,"market":"ETH","sigma":0.00328},{"h":7.83,"market":"ETH","sigma":0.00417},{"h":7.88,"market":"ETH","sigma":0.00417},{"h":7.95,"market":"ETH","sigma":0.0034},{"h":8.02,"market":"ETH","sigma":0.00328},{"h":8.09,"market":"ETH","sigma":0.003},{"h":8.52,"market":"ETH","sigma":0.003},{"h":8.56,"market":"ETH","sigma":0.0031},{"h":8.83,"market":"ETH","sigma":0.003},{"h":9.11,"market":"ETH","sigma":0.00328},{"h":9.18,"market":"ETH","sigma":0.00335},{"h":9.27,"market":"ETH","sigma":0.003},{"h":9.85,"market":"ETH","sigma":0.003},{"h":9.91,"market":"ETH","sigma":0.00543},{"h":9.97,"market":"ETH","sigma":0.00751},{"h":10.02,"market":"ETH","sigma":0.00733},{"h":10.06,"market":"ETH","sigma":0.00751},{"h":10.12,"market":"ETH","sigma":0.0067},{"h":10.19,"market":"ETH","sigma":0.0067},{"h":10.24,"market":"ETH","sigma":0.00619},{"h":10.34,"market":"ETH","sigma":0.00612},{"h":10.37,"market":"ETH","sigma":0.00391},{"h":10.44,"market":"ETH","sigma":0.00366},{"h":10.52,"market":"ETH","sigma":0.00361},{"h":10.61,"market":"ETH","sigma":0.00366},{"h":10.69,"market":"ETH","sigma":0.00371},{"h":10.75,"market":"ETH","sigma":0.00442},{"h":10.83,"market":"ETH","sigma":0.00455},{"h":10.9,"market":"ETH","sigma":0.00467},{"h":10.97,"market":"ETH","sigma":0.0034},{"h":11.11,"market":"ETH","sigma":0.0034},{"h":11.15,"market":"ETH","sigma":0.00442},{"h":11.22,"market":"ETH","sigma":0.00556},{"h":11.27,"market":"ETH","sigma":0.00599},{"h":11.32,"market":"ETH","sigma":0.00645},{"h":11.38,"market":"ETH","sigma":0.00683},{"h":11.45,"market":"ETH","sigma":0.0065},{"h":11.5,"market":"ETH","sigma":0.00683},{"h":11.57,"market":"ETH","sigma":0.0065},{"h":11.6,"market":"ETH","sigma":0.00683},{"h":11.67,"market":"ETH","sigma":0.00665},{"h":11.74,"market":"ETH","sigma":0.00665},{"h":11.81,"market":"ETH","sigma":0.00607},{"h":11.88,"market":"ETH","sigma":0.00442},{"h":12.02,"market":"ETH","sigma":0.00422},{"h":12.3,"market":"ETH","sigma":0.00386},{"h":12.52,"market":"ETH","sigma":0.00371},{"h":12.66,"market":"ETH","sigma":0.00366},{"h":12.76,"market":"ETH","sigma":0.00455},{"h":12.81,"market":"ETH","sigma":0.01006},{"h":12.9,"market":"ETH","sigma":0.01006},{"h":12.95,"market":"ETH","sigma":0.00923},{"h":13.01,"market":"ETH","sigma":0.01088},{"h":13.06,"market":"ETH","sigma":0.01083},{"h":13.11,"market":"ETH","sigma":0.00987},{"h":13.16,"market":"ETH","sigma":0.01058},{"h":13.22,"market":"ETH","sigma":0.01058},{"h":13.25,"market":"ETH","sigma":0.0083},{"h":13.29,"market":"ETH","sigma":0.00797},{"h":13.32,"market":"ETH","sigma":0.00455},{"h":13.41,"market":"ETH","sigma":0.0046},
{"h":0,"market":"SOL","sigma":0.00726},{"h":0.15,"market":"SOL","sigma":0.00695},{"h":0.3,"market":"SOL","sigma":0.00683},{"h":0.43,"market":"SOL","sigma":0.00683},{"h":0.47,"market":"SOL","sigma":0.00733},{"h":0.51,"market":"SOL","sigma":0.00736},{"h":0.56,"market":"SOL","sigma":0.00776},{"h":0.61,"market":"SOL","sigma":0.00721},{"h":0.73,"market":"SOL","sigma":0.0069},{"h":0.8,"market":"SOL","sigma":0.00695},{"h":0.84,"market":"SOL","sigma":0.00847},{"h":0.87,"market":"SOL","sigma":0.00695},{"h":0.95,"market":"SOL","sigma":0.00683},{"h":1.03,"market":"SOL","sigma":0.00708},{"h":1.07,"market":"SOL","sigma":0.00683},{"h":1.13,"market":"SOL","sigma":0.02178},{"h":1.24,"market":"SOL","sigma":0.02178},{"h":1.27,"market":"SOL","sigma":0.01836},{"h":1.35,"market":"SOL","sigma":0.01689},{"h":1.39,"market":"SOL","sigma":0.01755},{"h":1.42,"market":"SOL","sigma":0.0175},{"h":1.45,"market":"SOL","sigma":0.01689},{"h":1.48,"market":"SOL","sigma":0.01689},{"h":1.53,"market":"SOL","sigma":0.01544},{"h":1.56,"market":"SOL","sigma":0.01075},{"h":1.6,"market":"SOL","sigma":0.01012},{"h":1.63,"market":"SOL","sigma":0.00853},{"h":2.12,"market":"SOL","sigma":0.00741},{"h":2.48,"market":"SOL","sigma":0.0067},{"h":2.88,"market":"SOL","sigma":0.00599},{"h":3.46,"market":"SOL","sigma":0.00523},{"h":3.88,"market":"SOL","sigma":0.00462},{"h":4.23,"market":"SOL","sigma":0.00437},{"h":4.34,"market":"SOL","sigma":0.00455},{"h":4.69,"market":"SOL","sigma":0.00437},{"h":4.76,"market":"SOL","sigma":0.00422},{"h":4.87,"market":"SOL","sigma":0.00411},{"h":4.95,"market":"SOL","sigma":0.00447},{"h":5.01,"market":"SOL","sigma":0.00467},{"h":5.08,"market":"SOL","sigma":0.00581},{"h":5.13,"market":"SOL","sigma":0.00493},{"h":5.22,"market":"SOL","sigma":0.00455},{"h":5.27,"market":"SOL","sigma":0.00404},{"h":5.36,"market":"SOL","sigma":0.00556},{"h":5.46,"market":"SOL","sigma":0.00569},{"h":5.51,"market":"SOL","sigma":0.00518},{"h":5.57,"market":"SOL","sigma":0.00429},{"h":5.64,"market":"SOL","sigma":0.00417},{"h":5.85,"market":"SOL","sigma":0.00417},{"h":5.97,"market":"SOL","sigma":0.00404},{"h":6.02,"market":"SOL","sigma":0.00417},{"h":6.12,"market":"SOL","sigma":0.00619},{"h":6.23,"market":"SOL","sigma":0.00619},{"h":6.27,"market":"SOL","sigma":0.00493},{"h":6.34,"market":"SOL","sigma":0.0048},{"h":6.45,"market":"SOL","sigma":0.00467},{"h":6.61,"market":"SOL","sigma":0.00551},{"h":6.69,"market":"SOL","sigma":0.00518},{"h":6.75,"market":"SOL","sigma":0.00531},{"h":6.83,"market":"SOL","sigma":0.004},{"h":7.71,"market":"SOL","sigma":0.004},{"h":7.76,"market":"SOL","sigma":0.00455},{"h":7.85,"market":"SOL","sigma":0.00612},{"h":7.95,"market":"SOL","sigma":0.00574},{"h":8.06,"market":"SOL","sigma":0.00518},{"h":8.13,"market":"SOL","sigma":0.00447},{"h":8.24,"market":"SOL","sigma":0.0046},{"h":8.31,"market":"SOL","sigma":0.004},{"h":8.76,"market":"SOL","sigma":0.004},{"h":8.81,"market":"SOL","sigma":0.00437},{"h":8.85,"market":"SOL","sigma":0.004},{"h":9.36,"market":"SOL","sigma":0.004},{"h":9.39,"market":"SOL","sigma":0.00429},{"h":9.57,"market":"SOL","sigma":0.00429},{"h":9.6,"market":"SOL","sigma":0.004},{"h":9.91,"market":"SOL","sigma":0.004},{"h":9.95,"market":"SOL","sigma":0.00523},{"h":10.02,"market":"SOL","sigma":0.00498},{"h":10.1,"market":"SOL","sigma":0.00518},{"h":10.17,"market":"SOL","sigma":0.00462},{"h":10.21,"market":"SOL","sigma":0.00404},{"h":10.25,"market":"SOL","sigma":0.004},{"h":11.03,"market":"SOL","sigma":0.004},{"h":11.08,"market":"SOL","sigma":0.0048},{"h":11.15,"market":"SOL","sigma":0.00594},{"h":11.25,"market":"SOL","sigma":0.0069},{"h":11.32,"market":"SOL","sigma":0.00645},{"h":11.43,"market":"SOL","sigma":0.00619},{"h":11.53,"market":"SOL","sigma":0.0064},{"h":11.64,"market":"SOL","sigma":0.00619},{"h":11.74,"market":"SOL","sigma":0.00619},{"h":11.78,"market":"SOL","sigma":0.0048},{"h":11.88,"market":"SOL","sigma":0.00437},{"h":11.99,"market":"SOL","sigma":0.00417},{"h":12.17,"market":"SOL","sigma":0.004},{"h":12.76,"market":"SOL","sigma":0.004},{"h":12.81,"market":"SOL","sigma":0.00523},{"h":12.9,"market":"SOL","sigma":0.00523},{"h":12.94,"market":"SOL","sigma":0.00538},{"h":13.08,"market":"SOL","sigma":0.00523},{"h":13.13,"market":"SOL","sigma":0.00429},{"h":13.22,"market":"SOL","sigma":0.004},{"h":13.37,"market":"SOL","sigma":0.004},{"h":13.41,"market":"SOL","sigma":0.00442}
],
"floors": [{"market":"BTC","floor":0.002},{"market":"ETH","floor":0.003},{"market":"SOL","floor":0.004}],
"outflow": [
{"h":0,"market":"BTC","pct":0.498},{"h":13.14,"market":"BTC","pct":0.352},{"h":13.42,"market":"BTC","pct":0.352},
{"h":0,"market":"ETH","pct":0.094},{"h":13.14,"market":"ETH","pct":-0.008},{"h":13.42,"market":"ETH","pct":-0.008},
{"h":0,"market":"SOL","pct":-0.076},{"h":13.14,"market":"SOL","pct":-0.093},{"h":13.42,"market":"SOL","pct":-0.093}
]
},
"vconcat": [
{
"width": 1636, "height": 428,
"layer": [
{"data": {"values": [{}]}, "mark": {"type": "rule", "color": "#6e7681", "strokeWidth": 1.2}, "encoding": {"y": {"datum": 0, "type": "quantitative"}}},
{"data": {"name": "skew"}, "mark": {"type": "line", "strokeWidth": 2.5},
"encoding": {
"x": {"field": "h", "type": "quantitative", "scale": {"domain": [-0.67, 14.07], "nice": false, "zero": false}, "axis": {"values": [0,2,4,6,8,10,12,14], "labels": false, "title": null}},
"y": {"field": "skew", "type": "quantitative", "scale": {"domain": [-16680000, 4460000], "nice": false, "zero": false}, "axis": {"values": [-15000000,-12500000,-10000000,-7500000,-5000000,-2500000,0,2500000], "labelExpr": "(datum.value < 0 ? '-' : '+') + format(abs(datum.value)/1000000, '.1f') + 'M'", "title": "net trader skew (USD)"}},
"color": {"field": "market", "type": "nominal", "scale": {"domain": ["BTC","ETH","SOL"], "range": ["#f7931a","#8c9ef5","#14f195"]}, "legend": {"title": null, "orient": "top-left", "direction": "horizontal", "offset": 16, "symbolSize": 1681, "symbolStrokeWidth": 2.5, "labelFontSize": 18, "labelOffset": 15, "columnPadding": 38, "clipHeight": 22}}
}}
]
},
{
"width": 1636, "height": 286,
"layer": [
{"data": {"values": [{}]}, "mark": {"type": "rule", "color": "#f85149", "strokeWidth": 2, "strokeDash": [7.4, 3.2]}, "encoding": {"y": {"datum": 1, "type": "quantitative"}}},
{"data": {"values": [{}]}, "mark": {"type": "text", "text": "red line U = 1", "color": "#f85149", "fontSize": 16, "align": "right", "baseline": "middle"}, "encoding": {"x": {"datum": 13.99, "type": "quantitative"}, "y": {"datum": 1.056, "type": "quantitative"}}},
{"data": {"name": "udial"}, "transform": [{"fold": ["computed", "restated"], "as": ["series", "u"]}],
"mark": {"type": "line"},
"encoding": {
"x": {"field": "h", "type": "quantitative", "scale": {"domain": [-0.67, 14.07], "nice": false, "zero": false}, "axis": {"values": [0,2,4,6,8,10,12,14], "labels": false, "title": null}},
"y": {"field": "u", "type": "quantitative", "scale": {"domain": [0, 1.165], "nice": false, "zero": false}, "axis": {"values": [0,0.2,0.4,0.6,0.8,1.0], "format": ".1f", "title": "exit dial U"}},
"color": {"field": "series", "type": "nominal", "scale": {"domain": ["computed","restated"], "range": ["#f85149","#f0883e"]}, "legend": {"title": null, "orient": "top-left", "offset": 10, "symbolSize": 841, "labelFontSize": 14, "labelOffset": 10, "clipHeight": 20, "rowPadding": 0, "labelExpr": "datum.label == 'computed' ? 'U as computed (record)' : 'U restated (current constants)'"}},
"strokeDash": {"field": "series", "type": "nominal", "scale": {"domain": ["computed","restated"], "range": [[1,0],[5.5,2.4]]}, "legend": {"title": null, "orient": "top-left", "offset": 10, "symbolSize": 841, "labelFontSize": 14, "labelOffset": 10, "clipHeight": 20, "rowPadding": 0, "labelExpr": "datum.label == 'computed' ? 'U as computed (record)' : 'U restated (current constants)'"}},
"strokeWidth": {"field": "series", "type": "nominal", "scale": {"domain": ["computed","restated"], "range": [2.6, 2]}, "legend": {"title": null, "orient": "top-left", "offset": 10, "symbolSize": 841, "labelFontSize": 14, "labelOffset": 10, "clipHeight": 20, "rowPadding": 0, "labelExpr": "datum.label == 'computed' ? 'U as computed (record)' : 'U restated (current constants)'"}}
}}
]
},
{
"width": 1636, "height": 285,
"data": {"name": "budget"},
"mark": {"type": "line"},
"encoding": {
"x": {"field": "h", "type": "quantitative", "scale": {"domain": [-0.67, 14.07], "nice": false, "zero": false}, "axis": {"values": [0,2,4,6,8,10,12,14], "labels": false, "title": null}},
"y": {"field": "usd", "type": "quantitative", "scale": {"domain": [284000, 986500], "nice": false, "zero": false}, "axis": {"values": [400000,600000,800000], "labelExpr": "format(datum.value/1000, 'd') + 'k'", "title": "budget (USD)"}},
"color": {"field": "series", "type": "nominal", "scale": {"domain": ["B_net","basis","TaR95"], "range": ["#3fb950","#1f5c30","#a371f7"]}, "legend": {"title": null, "orient": "bottom-left", "offset": 12, "symbolSize": 1089, "labelFontSize": 16, "labelOffset": 12, "clipHeight": 23.5, "rowPadding": 0, "labelExpr": "datum.label == 'B_net' ? 'B_net (min-to-date)' : (datum.label == 'basis' ? 'basis' : 'TaR95 (reporting)')"}},
"strokeDash": {"field": "series", "type": "nominal", "scale": {"domain": ["B_net","basis","TaR95"], "range": [[1,0],[1,0],[7.4,3.2]]}, "legend": {"title": null, "orient": "bottom-left", "offset": 12, "symbolSize": 1089, "labelFontSize": 16, "labelOffset": 12, "clipHeight": 23.5, "rowPadding": 0, "labelExpr": "datum.label == 'B_net' ? 'B_net (min-to-date)' : (datum.label == 'basis' ? 'basis' : 'TaR95 (reporting)')"}},
"strokeWidth": {"field": "series", "type": "nominal", "scale": {"domain": ["B_net","basis","TaR95"], "range": [4, 1.6, 2.2]}, "legend": {"title": null, "orient": "bottom-left", "offset": 12, "symbolSize": 1089, "labelFontSize": 16, "labelOffset": 12, "clipHeight": 23.5, "rowPadding": 0, "labelExpr": "datum.label == 'B_net' ? 'B_net (min-to-date)' : (datum.label == 'basis' ? 'basis' : 'TaR95 (reporting)')"}}
}
},
{
"width": 1636, "height": 286,
"layer": [
{"data": {"name": "incident"}, "mark": {"type": "rect", "color": "#58a6ff", "opacity": 0.055},
"encoding": {"x": {"field": "start", "type": "quantitative", "scale": {"domain": [-0.67, 14.07], "nice": false, "zero": false}, "axis": {"values": [0,2,4,6,8,10,12,14], "labels": false, "title": null}}, "x2": {"field": "end"}}},
{"data": {"values": [{}]}, "mark": {"type": "rule", "color": "#6e7681", "strokeWidth": 1.2}, "encoding": {"y": {"datum": 0, "type": "quantitative"}}},
{"data": {"name": "drawdown"}, "mark": {"type": "line", "color": "#58a6ff", "strokeWidth": 2.5},
"encoding": {
"x": {"field": "h", "type": "quantitative", "scale": {"domain": [-0.67, 14.07], "nice": false, "zero": false}, "axis": {"values": [0,2,4,6,8,10,12,14], "labels": false, "title": null}},
"y": {"field": "d", "type": "quantitative", "scale": {"domain": [-83140, 4070], "nice": false, "zero": false}, "axis": {"values": [-80000,-60000,-40000,-20000,0], "format": "d", "title": "D (USD)"}}
}},
{"data": {"values": [{}]}, "mark": {"type": "text", "text": "shaded = incident machine open (episode classification)", "color": "#8b949e", "fontSize": 16, "align": "left", "baseline": "middle"}, "encoding": {"x": {"datum": -0.595, "type": "quantitative"}, "y": {"datum": -3050, "type": "quantitative"}}}
]
},
{
"width": 1636, "height": 286,
"layer": [
{"data": {"name": "floors"}, "mark": {"type": "rule", "strokeWidth": 1.2, "strokeDash": [1.2, 2], "opacity": 0.8},
"encoding": {"y": {"field": "floor", "type": "quantitative", "title": "sigma gate (/sqrt-h)"}, "color": {"field": "market", "type": "nominal", "scale": {"domain": ["BTC","ETH","SOL"], "range": ["#f7931a","#8c9ef5","#14f195"]}, "legend": null}}},
{"data": {"name": "sigma"}, "mark": {"type": "line", "strokeWidth": 2.5},
"encoding": {
"x": {"field": "h", "type": "quantitative", "scale": {"domain": [-0.67, 14.07], "nice": false, "zero": false}, "axis": {"values": [0,2,4,6,8,10,12,14], "labels": false, "title": null}},
"y": {"field": "sigma", "type": "quantitative", "scale": {"domain": [0.001, 0.02275], "nice": false, "zero": false}, "axis": {"values": [0.005,0.01,0.015,0.02], "format": ".3f"}, "title": "sigma gate (/sqrt-h)"},
"color": {"field": "market", "type": "nominal", "scale": {"domain": ["BTC","ETH","SOL"], "range": ["#f7931a","#8c9ef5","#14f195"]}, "legend": null}
}},
{"data": {"values": [{}]}, "mark": {"type": "text", "text": "dotted = running floors", "color": "#8b949e", "fontSize": 16, "align": "left", "baseline": "middle"}, "encoding": {"x": {"datum": -0.595, "type": "quantitative"}, "y": {"datum": 0.02097, "type": "quantitative"}}}
]
},
{
"width": 1636, "height": 215,
"title": {"text": "403 ticks (403 ok) | schemas a6b-flows-1 | gaps shaded | generated 2026-07-28 13:24Z", "orient": "bottom", "anchor": "start", "frame": "group", "fontSize": 14, "fontWeight": "normal", "color": "#8b949e", "dx": -124, "offset": 26},
"layer": [
{"data": {"values": [{}]}, "mark": {"type": "rule", "color": "#6e7681", "strokeWidth": 1.2}, "encoding": {"y": {"datum": 0, "type": "quantitative"}}},
{"data": {"name": "outflow"}, "mark": {"type": "line", "strokeWidth": 2.5, "interpolate": "step-after"},
"encoding": {
"x": {"field": "h", "type": "quantitative", "scale": {"domain": [-0.67, 14.07], "nice": false, "zero": false}, "axis": {"values": [0,2,4,6,8,10,12,14], "labelExpr": "(datum.value < 10 ? '0' : '') + datum.value + ':00'", "title": "UTC, 2026-07-28", "titlePadding": 9}},
"y": {"field": "pct", "type": "quantitative", "scale": {"domain": [-0.124, 0.527], "nice": false, "zero": false}, "axis": {"values": [0, 0.2, 0.4], "format": ".1f", "title": "7d LP net outflow (%)"}},
"color": {"field": "market", "type": "nominal", "scale": {"domain": ["BTC","ETH","SOL"], "range": ["#f7931a","#8c9ef5","#14f195"]}, "legend": null}
}},
{"data": {"values": [{}]}, "mark": {"type": "text", "text": "review thresholds: 20 per market / 15 aggregate (PROVISIONAL)", "color": "#8b949e", "fontSize": 16, "align": "left", "baseline": "middle"}, "encoding": {"x": {"datum": -0.595, "type": "quantitative"}, "y": {"datum": 0.445, "type": "quantitative"}}}
]
}
],
"resolve": {"scale": {"color": "independent", "strokeDash": "independent", "strokeWidth": "independent"}, "legend": {"color": "independent", "strokeDash": "independent", "strokeWidth": "independent"}},
"config": {
"font": "DejaVu Sans",
"view": {"stroke": "#2b3038", "strokeWidth": 1.5, "fill": "#0d1117"},
"axis": {"domain": false, "grid": false, "labelColor": "#c9d1d9", "labelFontSize": 18, "titleColor": "#c9d1d9", "titleFontSize": 18, "titleFontWeight": "normal", "tickColor": "#aab2bb", "tickSize": 7, "tickWidth": 1.2, "labelPadding": 5, "titlePadding": 12},
"legend": {"labelColor": "#c9d1d9", "labelLimit": 400, "labelFont": "DejaVu Sans"},
"text": {"font": "DejaVu Sans"}
}
}
